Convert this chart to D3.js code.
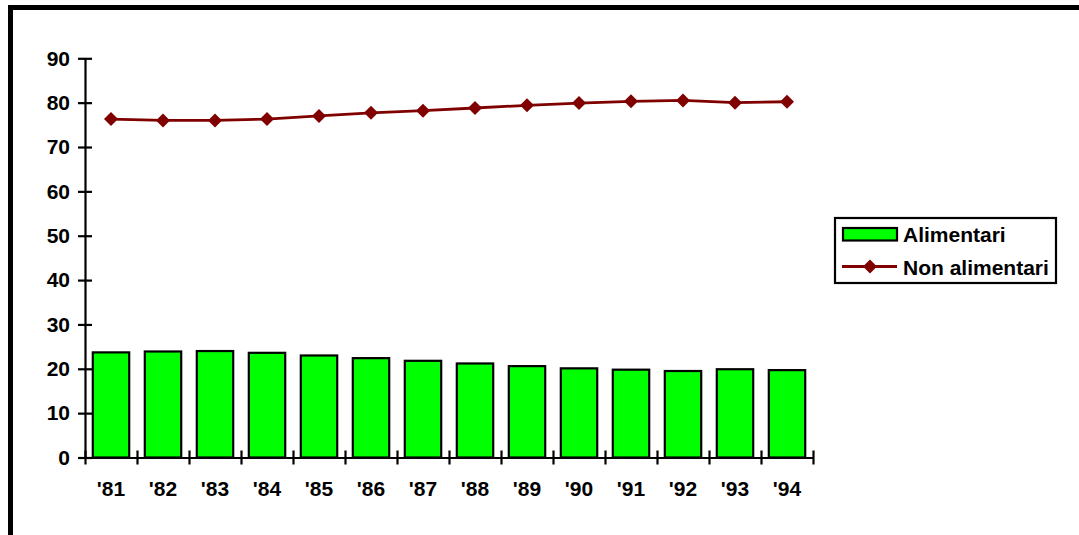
<!DOCTYPE html>
<html>
<head>
<meta charset="utf-8">
<script src="https://cdn.jsdelivr.net/npm/d3@7"></script>
<style>
  html, body { margin: 0; padding: 0; background: #ffffff; overflow: hidden; }
  svg { display: block; }
  text { font-family: "Liberation Sans", Arial, sans-serif; font-weight: bold; fill: #000; }
</style>
</head>
<body>
<div id="chart"></div>
<script>
// Quota della spesa per consumi: alimentari vs non alimentari (%)
const years = ["'81", "'82", "'83", "'84", "'85", "'86", "'87", "'88", "'89", "'90", "'91", "'92", "'93", "'94"];
const alimentari = [23.7, 23.9, 24.0, 23.6, 23.0, 22.4, 21.8, 21.2, 20.6, 20.1, 19.8, 19.5, 19.9, 19.7];
const nonAlimentari = [76.3, 76.0, 76.0, 76.3, 77.0, 77.7, 78.2, 78.8, 79.4, 79.9, 80.3, 80.5, 80.0, 80.2];
const yTicks = [0, 10, 20, 30, 40, 50, 60, 70, 80, 90];
const seriesNames = ["Alimentari", "Non alimentari"];

const W = 1079, H = 535;
const FONT = "21px";
const svg = d3.select("#chart").append("svg").attr("width", W).attr("height", H);

// Outer frame (runs past the right and bottom edges)
svg.append("rect")
  .attr("x", 10.5).attr("y", 7.5)
  .attr("width", W + 20).attr("height", H + 20)
  .attr("fill", "none").attr("stroke", "#000").attr("stroke-width", 5);

const plot = { left: 85, right: 813, top: 58.3, bottom: 457.5 };

const x = d3.scaleBand().domain(years).range([plot.left, plot.right]).paddingInner(0).paddingOuter(0);
const y = d3.scaleLinear().domain([0, 90]).range([plot.bottom, plot.top]);

// Bars
const barPad = x.bandwidth() * 0.15;
svg.append("g").selectAll("rect")
  .data(alimentari)
  .join("rect")
  .attr("x", (d, i) => x(years[i]) + barPad)
  .attr("width", x.bandwidth() - 2 * barPad)
  .attr("y", d => y(d))
  .attr("height", d => y(0) - y(d))
  .attr("fill", "#00ff00")
  .attr("stroke", "#000")
  .attr("stroke-width", 2.2);

// Y axis with ticks crossing the line
const yAxis = svg.append("g")
  .attr("transform", `translate(${plot.left},0)`)
  .call(d3.axisLeft(y).tickValues(yTicks).tickSize(7).tickPadding(8).tickSizeOuter(0));
yAxis.select(".domain").attr("stroke", "#000").attr("stroke-width", 2.2);
yAxis.selectAll(".tick line").attr("x1", 7).attr("stroke", "#000").attr("stroke-width", 2.2);
yAxis.selectAll(".tick text")
  .attr("x", -15)
  .style("font-size", FONT)
  .style("font-family", "'Liberation Sans', Arial, sans-serif")
  .style("font-weight", "bold")
  .attr("fill", "#000");

// X axis: ticks at category boundaries, labels at centres
const xEdge = d3.scaleLinear().domain([0, years.length]).range([plot.left, plot.right]);
const xAxis = svg.append("g")
  .attr("transform", `translate(0,${plot.bottom})`)
  .call(d3.axisBottom(xEdge).tickValues(d3.range(years.length + 1)).tickFormat("").tickSize(7).tickSizeOuter(0));
xAxis.select(".domain").attr("stroke", "#000").attr("stroke-width", 2.2);
xAxis.selectAll(".tick line").attr("y1", -7).attr("stroke", "#000").attr("stroke-width", 2.2);

svg.append("g").selectAll("text")
  .data(years)
  .join("text")
  .attr("x", d => x(d) + x.bandwidth() / 2)
  .attr("y", 495.5)
  .attr("text-anchor", "middle")
  .style("font-size", FONT)
  .text(d => d);

// Line series
const lineColor = "#800000";
const line = d3.line()
  .x((d, i) => x(years[i]) + x.bandwidth() / 2)
  .y(d => y(d));
svg.append("path")
  .datum(nonAlimentari)
  .attr("d", line)
  .attr("fill", "none")
  .attr("stroke", lineColor)
  .attr("stroke-width", 2.8);

const diamond = d3.symbol().type(d3.symbolDiamond2).size(125);
svg.append("g").selectAll("path")
  .data(nonAlimentari)
  .join("path")
  .attr("transform", (d, i) => `translate(${x(years[i]) + x.bandwidth() / 2},${y(d)})`)
  .attr("d", diamond)
  .attr("fill", lineColor);

// Legend
const lg = svg.append("g");
lg.append("rect")
  .attr("x", 835).attr("y", 218)
  .attr("width", 221).attr("height", 65)
  .attr("fill", "#fff").attr("stroke", "#000").attr("stroke-width", 2.2);
lg.append("rect")
  .attr("x", 843).attr("y", 228)
  .attr("width", 54).attr("height", 12.5)
  .attr("fill", "#00ff00").attr("stroke", "#000").attr("stroke-width", 2.2);
lg.append("text")
  .attr("x", 903).attr("y", 242)
  .style("font-size", FONT)
  .text(seriesNames[0]);
lg.append("line")
  .attr("x1", 842).attr("x2", 897).attr("y1", 266.5).attr("y2", 266.5)
  .attr("stroke", lineColor).attr("stroke-width", 2.8);
lg.append("path")
  .attr("transform", "translate(870,266.5)")
  .attr("d", diamond)
  .attr("fill", lineColor);
lg.append("text")
  .attr("x", 903).attr("y", 274.5)
  .style("font-size", FONT)
  .text(seriesNames[1]);
</script>
</body>
</html>
